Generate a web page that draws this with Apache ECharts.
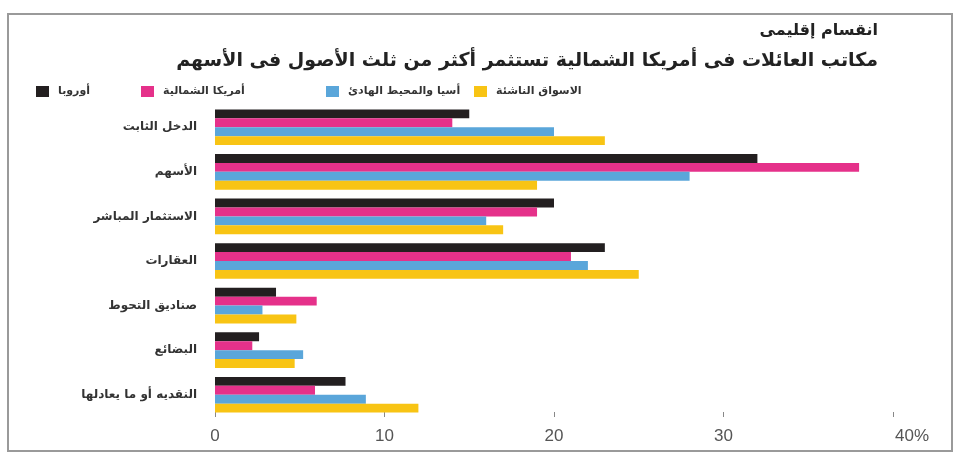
<!DOCTYPE html>
<html><head><meta charset="utf-8">
<script src="https://cdn.jsdelivr.net/npm/echarts@6/dist/echarts.min.js"></script>
<style>html,body{margin:0;padding:0;background:#fff}#c{width:966px;height:463px}</style>
</head><body><div id="c"></div>
<script>
const categories = ['الدخل الثابت','الأسهم','الاستثمار المباشر','العقارات','صناديق التحوط','البضائع','النقديه أو ما يعادلها'];
const seriesNames = ['أوروبا','أمريكا الشمالية','أسيا والمحيط الهادئ','الاسواق الناشئة'];
const europe = [15, 32, 20, 23, 3.6, 2.6, 7.7];
const northAmerica = [14, 38, 19, 21, 6, 2.2, 5.9];
const asiaPacific = [20, 28, 16, 22, 2.8, 5.2, 8.9];
const emerging = [23, 19, 17, 25, 4.8, 4.7, 12];
const xTicks = [0, 10, 20, 30, 40];
const colors = ['#231f20', '#e5318a', '#5aa6da', '#f8c414'];
const values = [europe, northAmerica, asiaPacific, emerging];
const font = "'DejaVu Sans', sans-serif";

const chart = echarts.init(document.getElementById('c'));
const legendLefts = [31, 136, 321, 469];
chart.setOption({
  animation: false,
  textStyle: {fontFamily: font},
  graphic: [{type: 'rect', shape: {x: 8, y: 14, width: 944, height: 437},
    style: {fill: 'none', stroke: '#9a9a9a', lineWidth: 2}, silent: true}],
  title: [
    {text: 'انقسام إقليمى', right: 83, top: 18, textStyle: {fontFamily: font, fontSize: 16, fontWeight: 'bold', color: '#222'}},
    {text: 'مكاتب العائلات فى أمريكا الشمالية تستثمر أكثر من ثلث الأصول فى الأسهم', right: 83, top: 47, textStyle: {fontFamily: font, fontSize: 19, fontWeight: 'bold', color: '#222'}}
  ],
  legend: seriesNames.map((n, i) => ({
    data: [n], left: legendLefts[i], top: 81, itemWidth: 13, itemHeight: 11, itemGap: 8,
    icon: 'rect', textStyle: {fontFamily: font, fontSize: 11, fontWeight: 'bold', color: '#333', padding: [0, 0, 0, 4]}
  })),
  grid: {left: 215, right: 73, top: 105, bottom: 46, containLabel: false},
  xAxis: {
    type: 'value', min: 0, max: 40, interval: 10,
    axisLine: {show: false},
    axisTick: {show: true, inside: true, length: 5, lineStyle: {color: '#888'}},
    splitLine: {show: false},
    axisLabel: {margin: 11, fontSize: 17, color: '#555', fontFamily: 'Liberation Sans, Arial, sans-serif',
      formatter: v => xTicks.includes(v) ? (v === 40 ? '{p|40%}' : String(v)) : '',
      rich: {p: {fontSize: 17, color: '#555', fontFamily: 'Liberation Sans, Arial, sans-serif', padding: [0, 0, 0, 38]}}}
  },
  yAxis: {
    type: 'category', data: categories, inverse: true,
    axisLine: {show: false}, axisTick: {show: false},
    axisLabel: {margin: 18, fontSize: 12, fontWeight: 'bold', color: '#333', fontFamily: font}
  },
  series: values.map((d, i) => ({
    type: 'bar', name: seriesNames[i], data: d, barGap: '0%', barCategoryGap: '20%',
    itemStyle: {color: colors[i]}
  }))
});
</script></body></html>
